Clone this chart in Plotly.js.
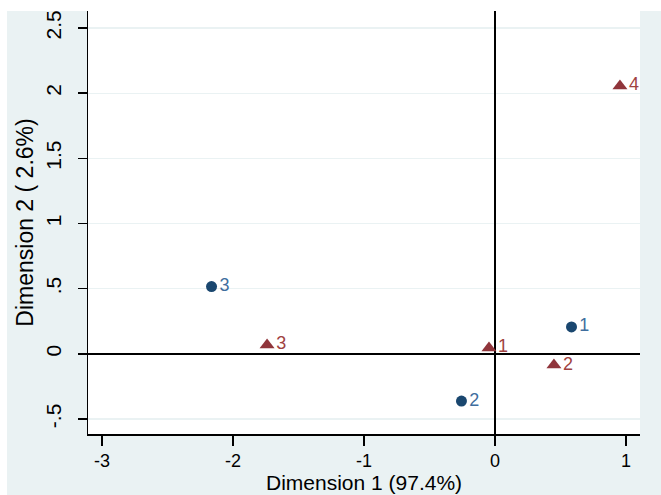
<!DOCTYPE html>
<html>
<head>
<meta charset="utf-8">
<script src="https://cdn.plot.ly/plotly-3.0.1.min.js"></script>
<style>
html,body{margin:0;padding:0;background:#ffffff;width:661px;height:495px;overflow:hidden;}
#chart{position:absolute;left:7px;top:11px;width:654px;height:484px;}
</style>
</head>
<body>
<div id="chart"></div>
<script>
// Row points (blue circles)
var rowLabels = ['1', '2', '3'];
var rowX = [0.584, -0.256, -2.164];
var rowY = [0.206, -0.362, 0.516];
// Column points (red triangles)
var colLabels = ['1', '2', '3', '4'];
var colX = [-0.046, 0.45, -1.74, 0.954];
var colY = [0.045, -0.086, 0.068, 2.055];
// Axis ticks
var xTickVals = [-3, -2, -1, 0, 1];
var xTickText = ['-3', '-2', '-1', '0', '1'];
var yTickVals = [-0.5, 0, 0.5, 1, 1.5, 2, 2.5];
var yTickText = ['-.5', '0', '.5', '1', '1.5', '2', '2.5'];
var xTitle = 'Dimension 1 (97.4%)';
var yTitle = 'Dimension 2 ( 2.6%)';

var FONT = 'Liberation Sans, Arial, sans-serif';

var traces = [
  {
    type: 'scatter', mode: 'markers+text',
    x: rowX, y: rowY, text: rowLabels,
    textposition: 'middle right',
    textfont: {family: FONT, size: 18, color: '#3f6e9e'},
    marker: {symbol: 'circle', size: 11, color: '#1a476f'},
    hoverinfo: 'none', cliponaxis: false
  },
  {
    type: 'scatter', mode: 'markers+text',
    x: colX, y: colY, text: colLabels,
    textposition: 'middle right',
    textfont: {family: FONT, size: 18, color: '#a0423f'},
    marker: {symbol: 'triangle-up', size: 13, color: '#90353b'},
    hoverinfo: 'none', cliponaxis: false
  }
];

var layout = {
  width: 654, height: 484,
  margin: {l: 81, r: 21, t: 0, b: 61, pad: 0},
  paper_bgcolor: '#eaf2f3',
  plot_bgcolor: '#ffffff',
  showlegend: false,
  font: {family: FONT, color: '#000000'},
  xaxis: {
    range: [-3.107, 1.107],
    tickmode: 'array', tickvals: xTickVals, ticktext: xTickText,
    ticks: 'outside', ticklen: 10, tickwidth: 1.5, tickcolor: '#000000',
    ticklabelstandoff: 0,
    tickfont: {family: FONT, size: 18, color: '#000000'},
    showgrid: false,
    showline: true, linecolor: '#000000', linewidth: 1.5,
    zeroline: true, zerolinecolor: '#000000', zerolinewidth: 1.5,
    fixedrange: true
  },
  yaxis: {
    range: [-0.615, 2.63],
    tickmode: 'array', tickvals: yTickVals, ticktext: yTickText,
    tickangle: -90,
    ticks: 'outside', ticklen: 9, tickwidth: 1.5, tickcolor: '#000000',
    ticklabelstandoff: 8,
    ticklabeloverflow: 'allow',
    tickfont: {family: FONT, size: 21, color: '#000000'},
    showgrid: true, gridcolor: '#eaf2f3', gridwidth: 1.2,
    showline: true, linecolor: '#000000', linewidth: 1.5,
    zeroline: true, zerolinecolor: '#000000', zerolinewidth: 1.5,
    title: {text: yTitle, font: {family: FONT, size: 23, color: '#000000'}, standoff: 2},
    fixedrange: true
  },
  annotations: [{
    text: xTitle, xref: 'paper', yref: 'paper', x: 0.5, y: -0.1442,
    xanchor: 'center', yanchor: 'bottom', showarrow: false, borderpad: 0,
    font: {family: FONT, size: 21, color: '#000000'}
  }]
};

Plotly.newPlot('chart', traces, layout, {displayModeBar: false, staticPlot: true});
</script>
</body>
</html>
